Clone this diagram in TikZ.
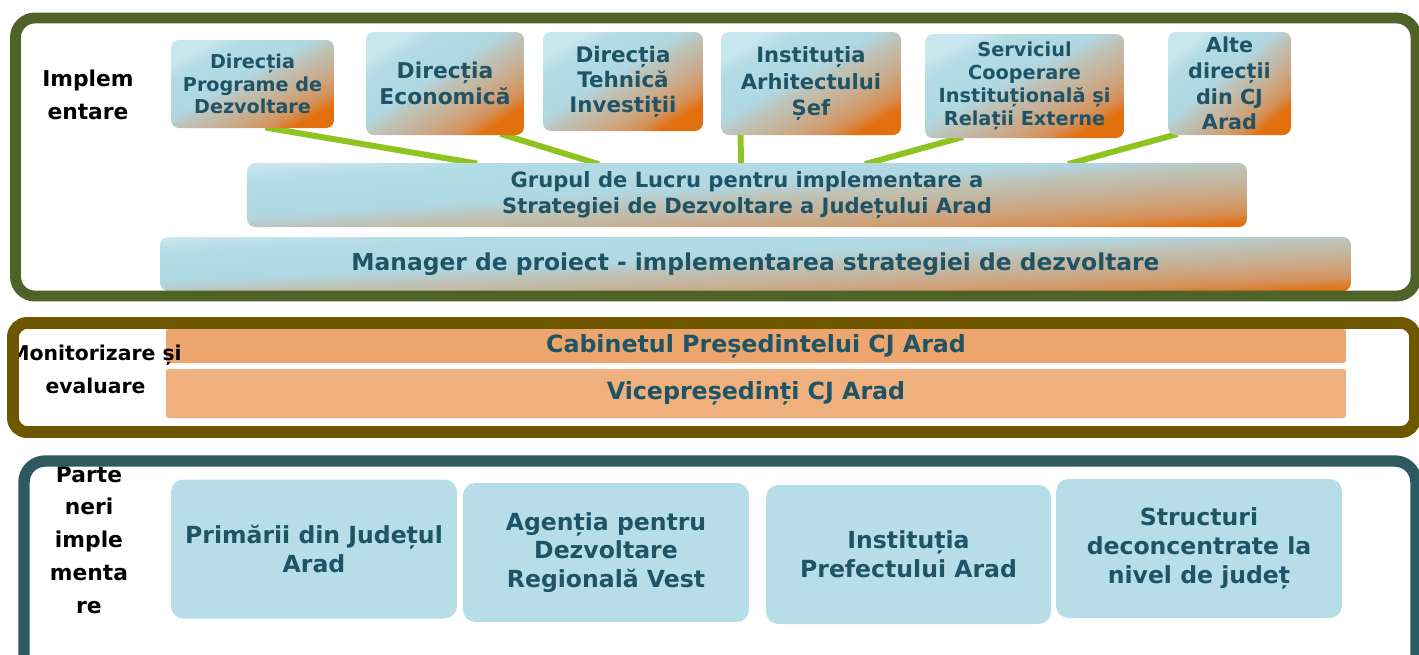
\documentclass[tikz,border=0pt]{standalone}
\usepackage{fontspec}
\setmainfont{DejaVu Sans}
\usetikzlibrary{positioning, calc, backgrounds}

\definecolor{paleblue}{HTML}{C8E6EE}
\definecolor{skyblue}{HTML}{B3DBE6}
\definecolor{lblue}{HTML}{B0D8E2}
\definecolor{mistblue}{HTML}{B6CFD2}
\definecolor{greyblue}{HTML}{BDC4B9}
\definecolor{greytan}{HTML}{C4B6A1}
\definecolor{tanbrown}{HTML}{CDA57F}
\definecolor{tanorange}{HTML}{D59058}
\definecolor{deeporange}{HTML}{E2700F}
\definecolor{partblue}{HTML}{B7DDE8}
\definecolor{textteal}{HTML}{1F5466}
\definecolor{linkgreen}{HTML}{8FC31F}
\definecolor{implgreen}{HTML}{4F6228}
\definecolor{monbrown}{HTML}{6F5700}
\definecolor{partteal}{HTML}{2C5A5F}
\definecolor{cabfill}{HTML}{EDA56E}
\definecolor{vicefill}{HTML}{F0B07D}

\pgfdeclarehorizontalshading{boxgrad}{100bp}{color(0bp)=(paleblue); color(25bp)=(paleblue); color(31bp)=(skyblue); color(45bp)=(lblue); color(48bp)=(mistblue); color(51bp)=(greyblue); color(57bp)=(greytan); color(63.5bp)=(tanbrown); color(70bp)=(tanorange); color(75bp)=(deeporange); color(100bp)=(deeporange)}

\newcommand{\fsz}[2]{\fontsize{#1}{#2}\selectfont\bfseries}

\begin{document}
\begin{tikzpicture}[x=0.02cm, y=-0.02cm,
    dirbox/.style={shade, shading=boxgrad, rounded corners=4.5pt,
      align=center, text=textteal, inner sep=0pt},
    rowbox/.style={rounded corners=1pt, align=center, text=textteal, inner sep=0pt,
      minimum width=23.6cm, font=\fsz{13.5}{16}},
    partbox/.style={fill=partblue, rounded corners=7pt, align=center, text=textteal,
      inner sep=0pt, minimum width=5.72cm, minimum height=2.78cm, font=\fsz{13.4}{16.4}},
    sidelabel/.style={align=center, text=black, inner sep=0pt, font=\fsz{12.4}{18.7}},
    link/.style={draw=linkgreen, line width=3.4pt, shorten <=-3pt, shorten >=-3pt}]
        \useasboundingbox (0,0) rectangle (1419,654);

        % Implementare
        \node[dirbox, shading angle=-61.6, minimum width=3.26cm, minimum height=1.76cm, font=\fsz{10.9}{13}] (dpd) at (252.5,84) {Direcția\\Programe de\\Dezvoltare};
        \node[dirbox, shading angle=-56.9, minimum width=3.16cm, minimum height=2.06cm, font=\fsz{12.4}{14.7}] (dec) at (445,83.5) {Direcția\\Economică};
        \node[dirbox, shading angle=-58.3, minimum width=3.2cm, minimum height=1.98cm, font=\fsz{12.2}{14.2}] (dti) at (623,81.5) {Direcția\\Tehnică\\Investiții};
        \node[dirbox, shading angle=-60.2, minimum width=3.6cm, minimum height=2.06cm, font=\fsz{12}{15}] (ias) at (811,83.5) {Instituția\\Arhitectului\\Șef};
        \node[dirbox, shading angle=-62.4, minimum width=3.98cm, minimum height=2.08cm, font=\fsz{11}{13}] (scr) at (1024.5,86) {Serviciul\\Cooperare\\Instituțională și\\Relații Externe};
        \node[dirbox, shading angle=-50.1, minimum width=2.46cm, minimum height=2.06cm, font=\fsz{11.8}{14.7}] (alte) at (1229.5,83.5) {Alte\\direcții\\din CJ\\Arad};
        \node[dirbox, shading angle=-86.3, minimum width=20cm, minimum height=1.28cm, font=\fsz{12}{14.7}] (grp) at (747,195) {Grupul de Lucru pentru implementare a\\Strategiei de Dezvoltare a Județului Arad};
        \node[dirbox, shading angle=-87.4, minimum width=23.82cm, minimum height=1.08cm, font=\fsz{13.3}{16}] (mgr) at (755.5,264) {Manager de proiect - implementarea strategiei de dezvoltare};
        \node[sidelabel] (limp) at (88,94.5) {Implem\\entare};

        % Edges
        \begin{scope}[on background layer]
        \draw[link] ($(dpd.south west)!0.61!(dpd.south east)$) -- ($(grp.north west)!0.225!(grp.north east)$);
        \draw[link] ($(dec.south west)!0.88!(dec.south east)$) -- ($(grp.north west)!0.347!(grp.north east)$);
        \draw[link] ($(ias.south west)!0.11!(ias.south east)$) -- ($(grp.north west)!0.494!(grp.north east)$);
        \draw[link] ($(scr.south west)!0.166!(scr.south east)$) -- ($(grp.north west)!0.623!(grp.north east)$);
        \draw[link] ($(alte.south west)!0.04!(alte.south east)$) -- ($(grp.north west)!0.826!(grp.north east)$);
        \end{scope}

        % Monitorizare si evaluare
        \node[rowbox, fill=cabfill, minimum height=0.68cm] (cab) at (756,346) {Cabinetul Președintelui CJ Arad};
        \node[rowbox, fill=vicefill, minimum height=0.98cm] (vic) at (756,393.5) {Vicepreședinți CJ Arad};
        \node[sidelabel, font=\fsz{11.6}{18.7}] (lmon) at (95.5,369) {Monitorizare și\\evaluare};

        % Parteneri
        \node[partbox] (pri) at (314,549) {Primării din Județul\\Arad};
        \node[partbox] (adr) at (606,552.5) {Agenția pentru\\Dezvoltare\\Regională Vest};
        \node[partbox, minimum width=5.7cm] (ipa) at (908.5,554.5) {Instituția\\Prefectului Arad};
        \node[partbox] (sdj) at (1199,548.5) {Structuri\\deconcentrate la\\nivel de județ};
        \node[sidelabel] (lpar) at (89,540) {Parte\\neri\\imple\\menta\\re};

        % Panels
        \draw[implgreen, line width=6.2pt, rounded corners=11pt] (15.5,18) rectangle (1416,296);
        \draw[monbrown, line width=6.8pt, rounded corners=8pt] (13,323) rectangle (1415,432);
        \draw[partteal, line width=6.5pt, rounded corners=12pt] (24,461) rectangle (1416,680);
      \end{tikzpicture}
\end{document}
